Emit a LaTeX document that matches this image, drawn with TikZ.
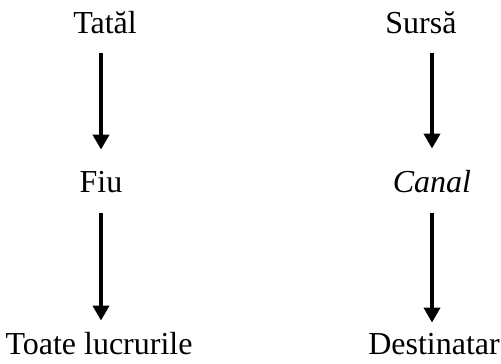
\documentclass[tikz,border=0pt]{standalone}
\usepackage{fontspec}
\setmainfont{Liberation Serif}
\usetikzlibrary{arrows.meta}
\begin{document}
\begin{tikzpicture}[x=1pt,y=-1pt,
  lbl/.style={inner sep=0pt,anchor=base,font=\fontsize{32}{38}\selectfont},
  flow/.style={line width=4pt,-{Triangle[width=16pt,length=15pt]}}]
\useasboundingbox (0,0) rectangle (501,364);
\node[lbl] (tatal) at (105,33) {Tatăl};
\node[lbl] (fiu) at (101,192) {Fiu};
\node[lbl] (toate) at (99,354) {Toate lucrurile};
\node[lbl] (sursa) at (421,33) {Sursă};
\node[lbl] (canal) at (432,192) {\itshape Canal};
\node[lbl] (dest) at (434,354) {Destinatar};
\draw[flow,shorten <=19pt,shorten >=21pt] (tatal.south -| fiu.north) -- (fiu.north);
\draw[flow,shorten <=20pt,shorten >=11pt] (fiu.south) -- (toate.north -| fiu.south);
\draw[flow,shorten <=19pt,shorten >=21pt] (sursa.south -| canal.north) -- (canal.north);
\draw[flow,shorten <=20pt,shorten >=10pt] (canal.south) -- (dest.north -| canal.south);
\end{tikzpicture}
\end{document}
